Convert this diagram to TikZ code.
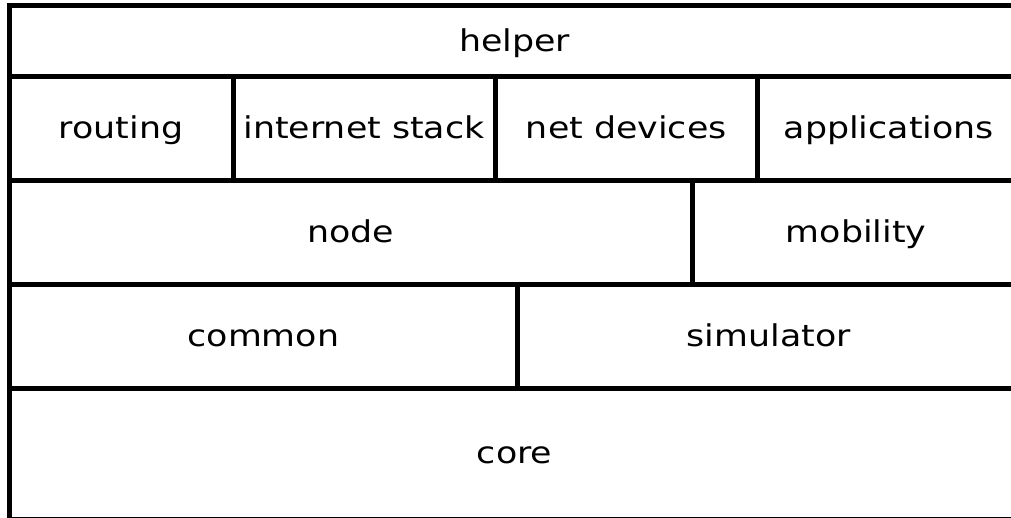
\documentclass[tikz,border=0pt]{standalone}
\usepackage{fontspec}
\setmainfont[FakeStretch=1.16]{DejaVu Sans}

\tikzset{
  cell/.style={draw=black, line width=5pt, rectangle, inner sep=0pt,
    font=\fontsize{30}{36}\selectfont, text height=24pt, text depth=4pt},
}

% \layercell{name}{x1}{y1}{x2}{y2}{label}: one box of the layer stack
\newcommand{\layercell}[6]{%
  \node[cell, minimum width={#4pt-#2pt}, minimum height={#5pt-#3pt}]
    (#1) at ({(#2+#4)/2},{(#3+#5)/2}) {#6};%
}

\begin{document}
\begin{tikzpicture}[x=1pt, y=-1pt]
  \useasboundingbox (0,0) rectangle (1011,518);
  \clip (0,0) rectangle (1011,518);

  \layercell{helper}{9.3}{5.8}{1020}{76.5}{helper}

  \layercell{routing}{9.3}{76.5}{233}{180.5}{routing}
  \layercell{internet}{233}{76.5}{495}{180.5}{internet stack}
  \layercell{netdev}{495}{76.5}{757.5}{180.5}{net devices}
  \layercell{apps}{757.5}{76.5}{1020}{180.5}{applications}

  \layercell{node}{9.3}{180.5}{692.5}{284.5}{node}
  \layercell{mobility}{692.5}{180.5}{1020}{284.5}{mobility}

  \layercell{common}{9.3}{284.5}{517.5}{388.5}{common}
  \layercell{simulator}{517.5}{284.5}{1020}{388.5}{simulator}

  \layercell{core}{9.3}{388.5}{1020}{519}{core}
\end{tikzpicture}
\end{document}
